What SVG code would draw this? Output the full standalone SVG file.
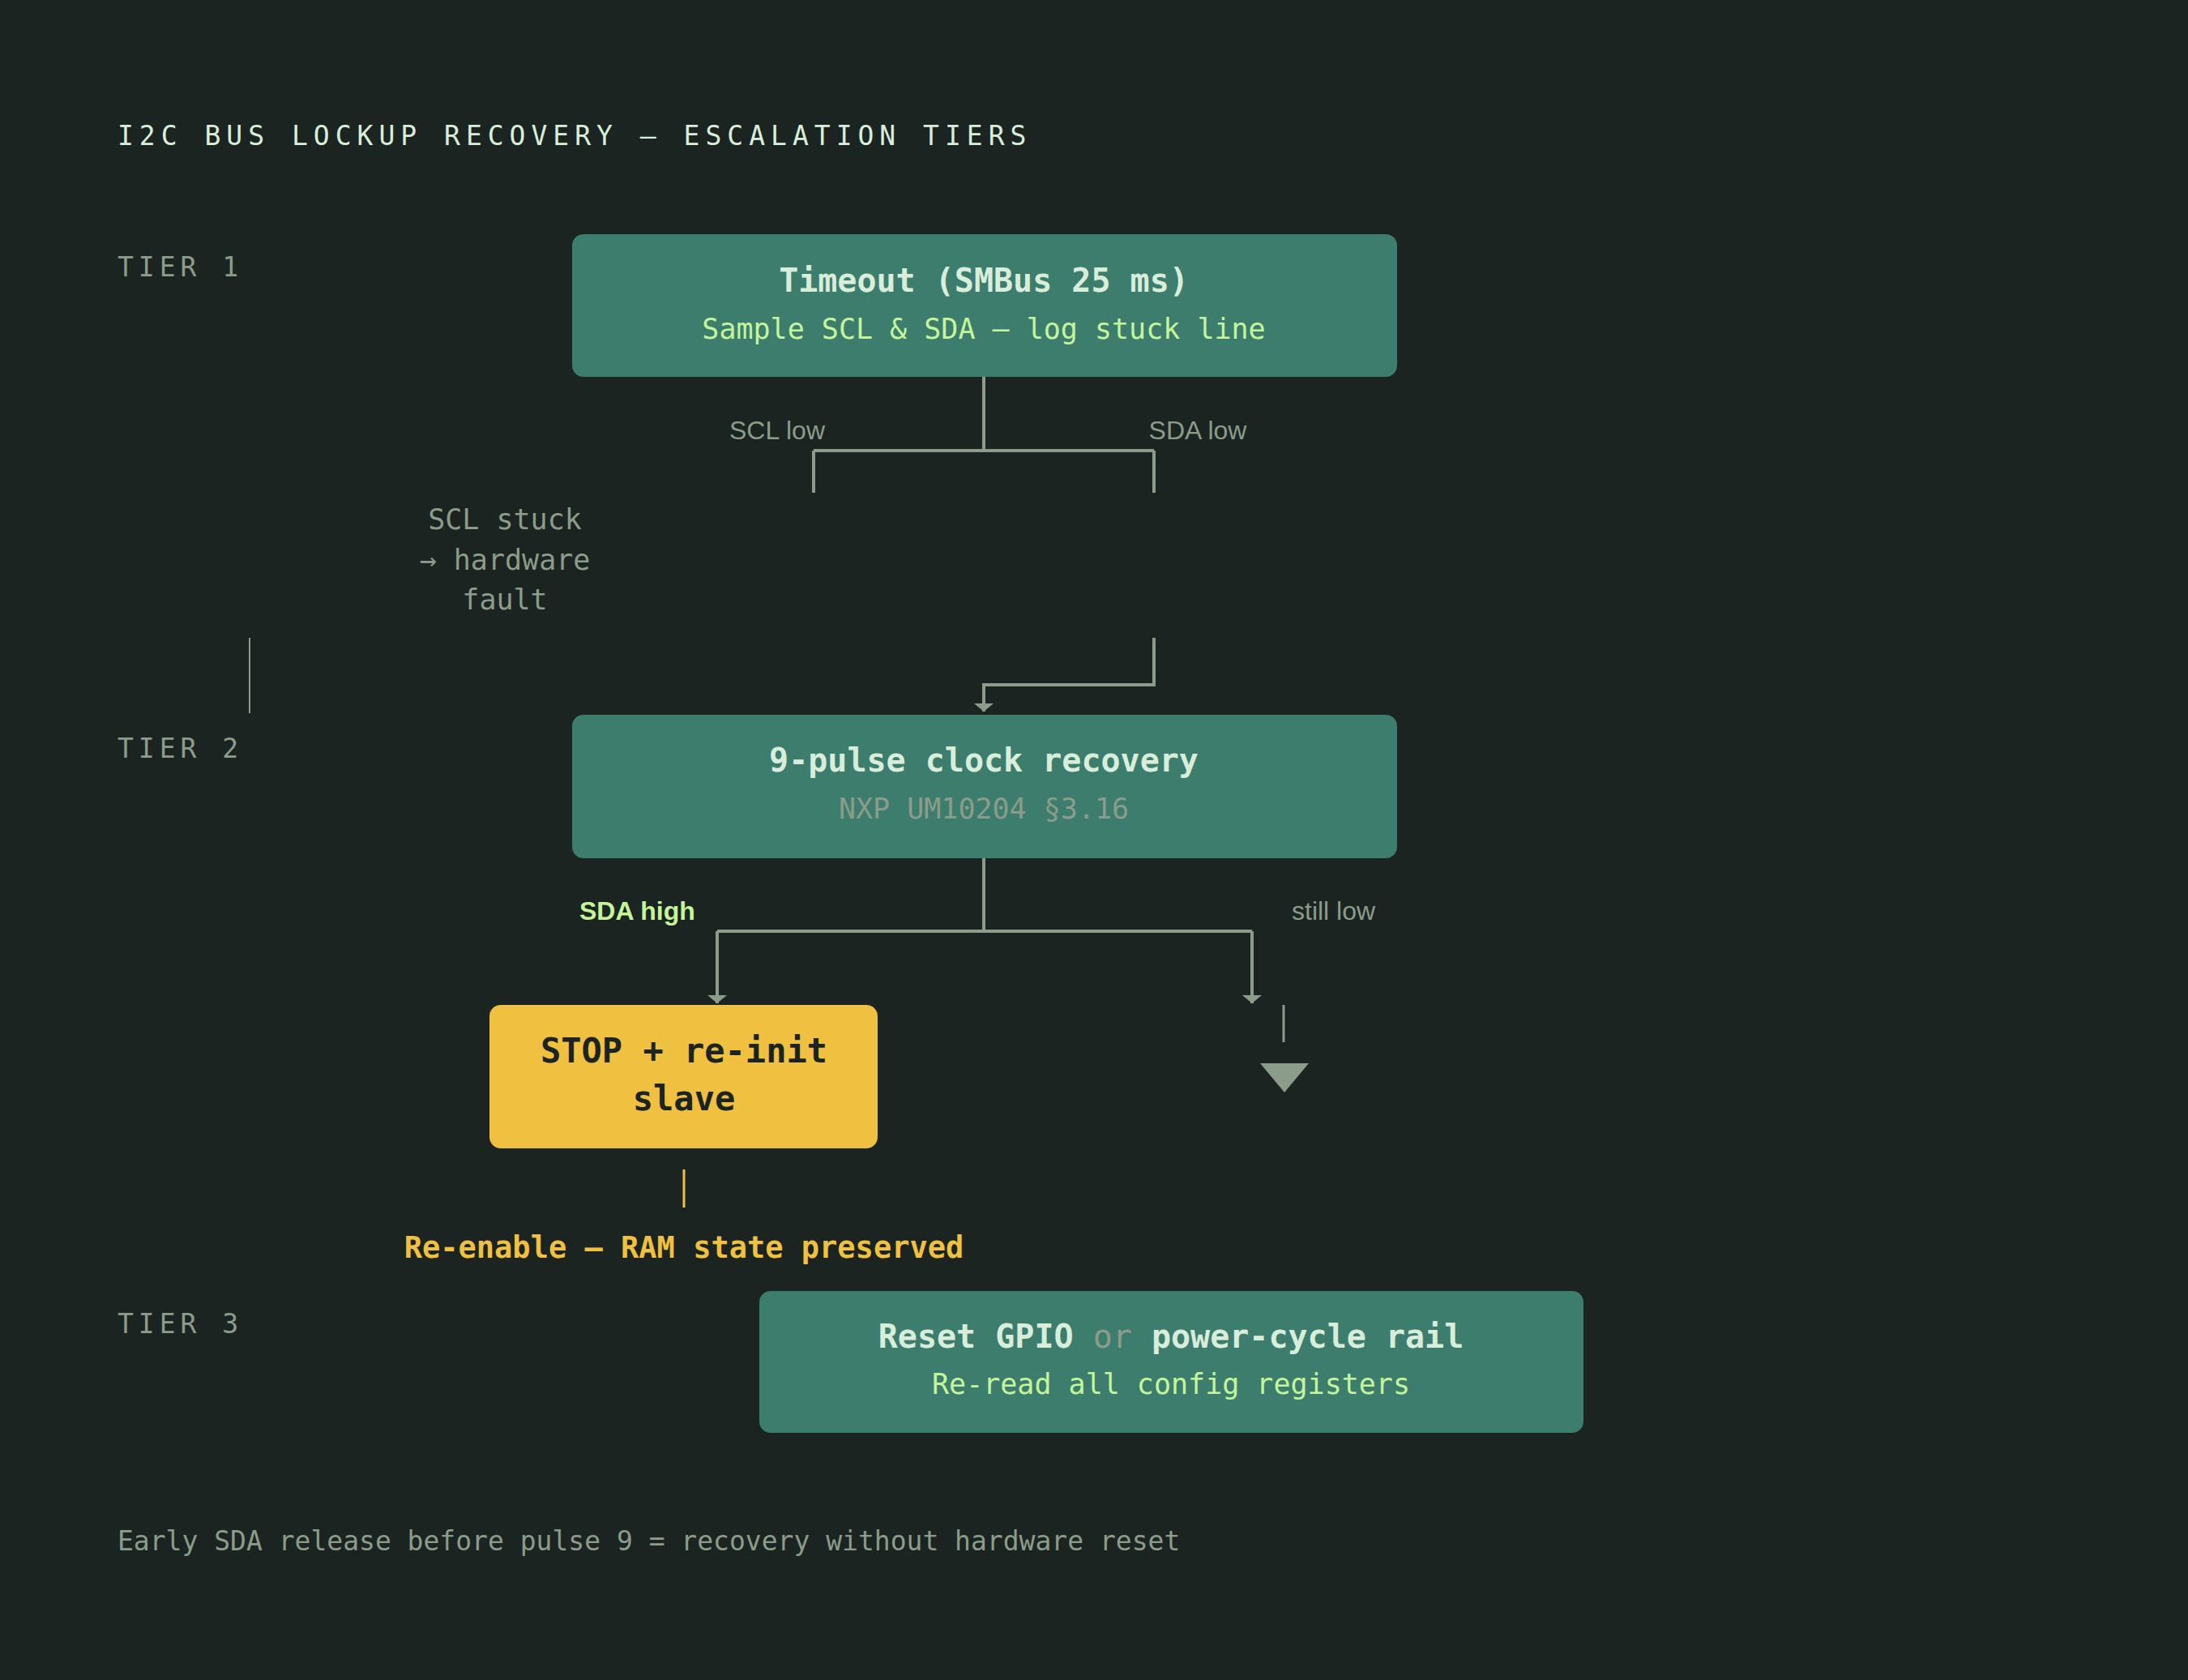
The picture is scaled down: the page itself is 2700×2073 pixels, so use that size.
<svg xmlns="http://www.w3.org/2000/svg" width="2700" height="2073" viewBox="0 0 2700 2073">
<style>
.m{font-family:"DejaVu Sans Mono","Liberation Mono",monospace}
.s{font-family:"Liberation Sans",Arial,sans-serif}
.box{fill:#3d7d6e}
.t{fill:#d8eedb;font-weight:bold;font-size:40px}
.sub{fill:#c5f59a;font-size:35px}
.g{fill:#8c9c8a}
.tier{fill:#8c9c8a;font-size:33px;letter-spacing:6px}
.ln{stroke:#8c9c8a;stroke-width:4;fill:none}
</style>
<defs><marker id="a" viewBox="0 0 10 10" refX="5" refY="10" markerWidth="10" markerHeight="10" markerUnits="userSpaceOnUse" orient="auto"><path d="M0,0 L10,0 L5,10 z" fill="#8c9c8a" transform="rotate(-90 5 5)"/></marker>
<marker id="b" viewBox="0 0 24 12" refX="12" refY="12" markerWidth="24" markerHeight="12" markerUnits="userSpaceOnUse" orient="0"><path d="M0,2 L24,2 L12,12 z" fill="#8c9c8a"/></marker></defs>
<rect width="2700" height="2073" fill="#1b2420"/>
<text class="m" x="145" y="179" fill="#d8eedb" font-size="33" letter-spacing="7">I2C BUS LOCKUP RECOVERY — ESCALATION TIERS</text>
<text class="m tier" x="145" y="341">TIER 1</text>
<text class="m tier" x="145" y="935">TIER 2</text>
<text class="m tier" x="145" y="1645">TIER 3</text>
<g id="connectors">
<path class="ln" d="M1214,465 V556 M1004,556 H1424 M1004,556 V608 M1424,556 V608"/>
<path class="ln" d="M1424,787 V845 H1214 V878" marker-end="url(#b)"/>
<line x1="308" y1="787" x2="308" y2="880" stroke="#8c9c8a" stroke-width="2"/>
<path class="ln" d="M1214,1059 V1149 M885,1149 H1545"/>
<path class="ln" d="M885,1149 V1238" marker-end="url(#b)"/>
<path class="ln" d="M1545,1149 V1238" marker-end="url(#b)"/>
<line x1="1584" y1="1240" x2="1584" y2="1286" stroke="#8c9c8a" stroke-width="3"/>
<polygon points="1555,1312 1615,1312 1585,1348" fill="#8c9c8a"/>
<line x1="844" y1="1443" x2="844" y2="1490" stroke="#f0c040" stroke-width="3"/>
<text class="s g" x="959" y="542" font-size="32" text-anchor="middle">SCL low</text>
<text class="s g" x="1478" y="542" font-size="32" text-anchor="middle">SDA low</text>
<text class="s" x="715" y="1135" font-size="32" font-weight="bold" fill="#c5f59a">SDA high</text>
<text class="s g" x="1594" y="1135" font-size="32">still low</text>
</g>
<g id="n1">
<rect class="box" x="706" y="289" width="1018" height="176" rx="14"/>
<text class="m t" x="1214" y="360" text-anchor="middle">Timeout (SMBus 25 ms)</text>
<text class="m sub" x="1214" y="418" text-anchor="middle">Sample SCL &amp; SDA — log stuck line</text>
</g>
<g id="note1" class="m g" font-size="35" text-anchor="middle">
<text x="623" y="653">SCL stuck</text>
<text x="623" y="703">→ hardware</text>
<text x="623" y="752">fault</text>
</g>
<g id="n2">
<rect class="box" x="706" y="882" width="1018" height="177" rx="14"/>
<text class="m t" x="1214" y="952" text-anchor="middle">9-pulse clock recovery</text>
<text class="m g" x="1214" y="1010" font-size="35" text-anchor="middle">NXP UM10204 §3.16</text>
</g>
<g id="n3">
<rect x="604" y="1240" width="479" height="177" rx="14" fill="#f0c040"/>
<text class="m" x="844" y="1311" font-size="42" font-weight="bold" fill="#1b2420" text-anchor="middle">STOP + re-init</text>
<text class="m" x="844" y="1370" font-size="42" font-weight="bold" fill="#1b2420" text-anchor="middle">slave</text>
</g>
<text class="m" x="844" y="1552" font-size="37" font-weight="bold" fill="#f0c040" text-anchor="middle">Re-enable — RAM state preserved</text>
<g id="n4">
<rect class="box" x="937" y="1593" width="1017" height="175" rx="14"/>
<text class="m t" x="1445" y="1663" text-anchor="middle">Reset GPIO <tspan fill="#8c9c8a" font-weight="normal">or</tspan> power-cycle rail</text>
<text class="m sub" x="1445" y="1720" text-anchor="middle">Re-read all config registers</text>
</g>
<text class="m g" x="145" y="1913" font-size="33">Early SDA release before pulse 9 = recovery without hardware reset</text>
</svg>
